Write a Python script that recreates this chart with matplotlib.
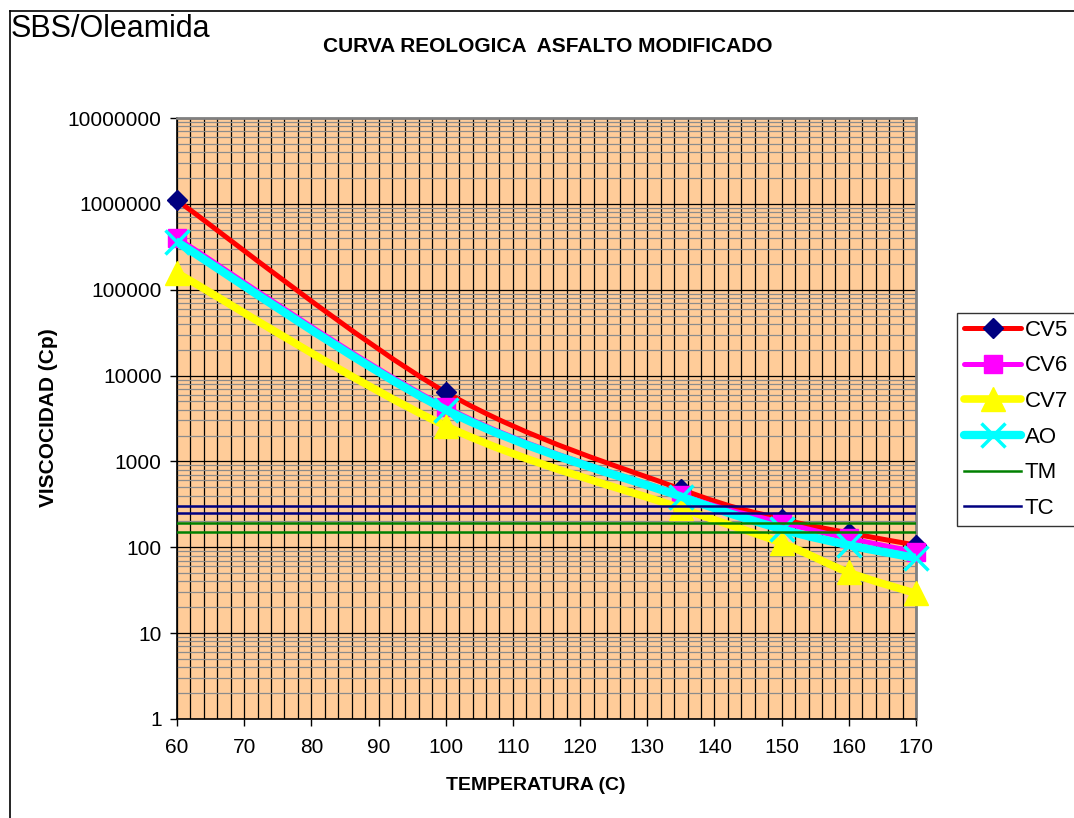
import matplotlib
matplotlib.use("Agg")
import matplotlib.pyplot as plt
import numpy as np
from matplotlib.path import Path
from matplotlib.patches import PathPatch
from matplotlib.lines import Line2D
from matplotlib.ticker import MultipleLocator, FuncFormatter, NullFormatter, LogLocator

plt.rcParams.update({
    "font.family": "Liberation Sans",
})

# ---------------- datos ----------------
temps = [60, 100, 135, 150, 160, 170]
cv5 = [1100000, 6400, 475, 214, 147, 106]
cv6 = [400000, 4300, 408, 195, 127, 89]
cv7 = [157000, 2590, 285, 112, 51, 29]
ao = [360000, 4000, 390, 163, 106, 75]
tm_levels = [190, 150]
tc_levels = [300, 250]
x_range = [60, 170]

W, H = 1074, 818
fig = plt.figure(figsize=(W / 100, H / 100), dpi=100)
ax = fig.add_axes([177 / W, 1 - 719 / H, (916 - 177) / W, (719 - 118) / H])
ax.set_facecolor("#FFCC99")


def smooth_path(xs, ys):
    # curva suavizada tipo Excel (Bezier con tangentes Catmull-Rom, en espacio log)
    pts = np.column_stack([np.asarray(xs, float), np.log10(ys)])
    n = len(pts)
    verts = [pts[0]]
    codes = [Path.MOVETO]
    for i in range(n - 1):
        p0 = pts[max(i - 1, 0)]
        p1 = pts[i]
        p2 = pts[i + 1]
        p3 = pts[min(i + 2, n - 1)]
        verts += [p1 + (p2 - p0) / 6, p2 - (p3 - p1) / 6, p2]
        codes += [Path.CURVE4] * 3
    verts = np.array(verts)
    verts[:, 1] = 10 ** verts[:, 1]
    return Path(verts, codes)


series = [
    ("CV5", cv5, "#FF0000", 3.6, dict(marker="D", ms=10, mfc="#000080", mec="#000080")),
    ("CV6", cv6, "#FF00FF", 3.6, dict(marker="s", ms=13.5, mfc="#FF00FF", mec="#FF00FF")),
    ("CV7", cv7, "#FFFF00", 5.5, dict(marker="^", ms=17, mfc="#FFFF00", mec="#FFFF00")),
    ("AO", ao, "#00FFFF", 6.0, dict(marker="x", ms=17, mew=2.5, mec="#00FFFF")),
]

handles = []
for k, (name, vals, col, lw, mk) in enumerate(series):
    z = 3 + k
    ax.add_patch(PathPatch(smooth_path(temps, vals), fill=False, edgecolor=col,
                           lw=lw, capstyle="round", joinstyle="round", zorder=z))
    ax.plot(temps, vals, ls="none", zorder=z + 0.5, clip_on=False, **mk)
    handles.append(Line2D([], [], color=col, lw=lw, solid_capstyle="round", **mk))

for v in tm_levels:
    ax.plot(x_range, [v, v], color="#008000", lw=1.8, zorder=8)
for v in tc_levels:
    ax.plot(x_range, [v, v], color="#000080", lw=1.8, zorder=8)
handles.append(Line2D([], [], color="#008000", lw=1.8))
handles.append(Line2D([], [], color="#000080", lw=1.8))

ax.set_yscale("log")
ax.set_xlim(60, 170)
ax.set_ylim(1, 1e7)
ax.xaxis.set_major_locator(MultipleLocator(10))
ax.xaxis.set_minor_locator(MultipleLocator(2))
ax.yaxis.set_major_locator(LogLocator(base=10, numticks=20))
ax.yaxis.set_minor_locator(LogLocator(base=10, subs=np.arange(2, 10), numticks=20))
ax.yaxis.set_major_formatter(FuncFormatter(lambda v, p: f"{int(round(v))}"))
ax.yaxis.set_minor_formatter(NullFormatter())

ax.grid(True, which="major", axis="both", color="black", lw=0.9, zorder=1)
ax.grid(True, which="minor", axis="x", color="black", lw=0.9, zorder=1)
ax.grid(True, which="minor", axis="y", color="#8c8c8c", lw=0.9, zorder=1)
ax.set_axisbelow(True)

ax.tick_params(which="major", direction="out", length=5, width=1, labelsize=15,
               color="black")
ax.tick_params(axis="y", which="major", pad=6)
ax.tick_params(axis="x", which="major", pad=9)
ax.tick_params(which="minor", length=0)
for s in ["left", "bottom"]:
    ax.spines[s].set_color("black")
    ax.spines[s].set_linewidth(1.2)
for s in ["top", "right"]:
    ax.spines[s].set_color("#808080")
    ax.spines[s].set_linewidth(2)

# textos
fig.text(11 / W, 1 - 29 / H, "SBS/Oleamida", fontsize=22, va="center", ha="left")
fig.text(548 / W, 1 - 46 / H, "CURVA REOLOGICA  ASFALTO MODIFICADO", fontsize=15,
         fontweight="bold", ha="center", va="center")
fig.text(49 / W, 1 - 418 / H, "VISCOCIDAD (Cp)", fontsize=15, fontweight="bold",
         rotation=90, ha="center", va="center")
fig.text(536 / W, 1 - 785 / H, "TEMPERATURA (C)", fontsize=14, fontweight="bold",
         ha="center", va="center")

leg = fig.legend(handles, ["CV5", "CV6", "CV7", "AO", "TM", "TC"],
                 loc="upper left", bbox_to_anchor=(957 / W, 1 - 313 / H),
                 fontsize=16, frameon=True, fancybox=False, handlelength=2.6,
                 handletextpad=0.15, labelspacing=0.66, borderpad=0.3,
                 borderaxespad=0)
leg.get_frame().set_edgecolor("black")
leg.get_frame().set_linewidth(1)

# borde del area del grafico
fig.add_artist(Line2D([10 / W, 10 / W], [0, 1 - 11 / H], transform=fig.transFigure,
                      color="black", lw=1.2))
fig.add_artist(Line2D([10 / W, 1], [1 - 11 / H, 1 - 11 / H], transform=fig.transFigure,
                      color="black", lw=1.2))

fig.savefig("out.png", dpi=100)
